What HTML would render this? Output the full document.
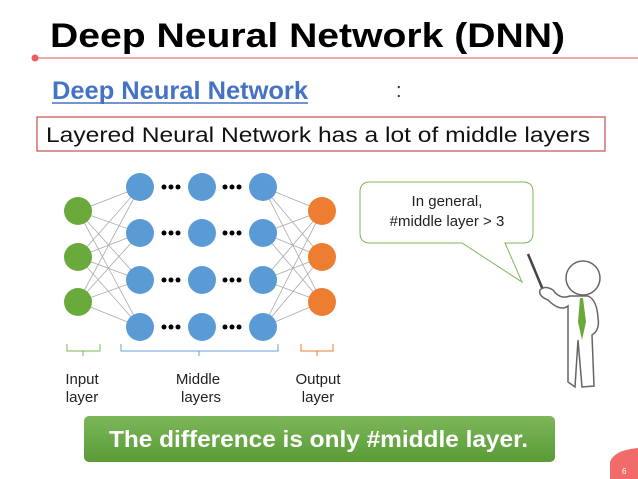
<!DOCTYPE html>
<html><head><meta charset="utf-8"><style>
html,body{margin:0;padding:0;background:#fff}
svg{display:block}
text{font-family:"Liberation Sans",sans-serif}
</style></head><body>
<svg width="638" height="479" viewBox="0 0 638 479" xmlns="http://www.w3.org/2000/svg">
<defs>
<linearGradient id="gb" x1="0" y1="0" x2="0" y2="1"><stop offset="0" stop-color="#7cb75a"/><stop offset="1" stop-color="#5a9b36"/></linearGradient>
</defs>
<text x="50" y="47" font-size="34" font-weight="bold" fill="#000" textLength="515" lengthAdjust="spacingAndGlyphs">Deep Neural Network (DNN)</text>
<line x1="35" y1="58" x2="638" y2="58" stroke="#e89090" stroke-width="1.5"/>
<circle cx="35" cy="58" r="3.5" fill="#ee5c5c"/>
<text x="52" y="99" font-size="25" font-weight="bold" fill="#4472c4" textLength="256" lengthAdjust="spacingAndGlyphs">Deep Neural Network</text>
<line x1="52" y1="103" x2="308" y2="103" stroke="#4472c4" stroke-width="1.5"/>
<text x="396" y="97" font-size="20" fill="#333">:</text>
<rect x="37" y="117" width="568" height="34" fill="#fff" stroke="#c0504d" stroke-width="1.2"/>
<text x="46" y="142" font-size="21" fill="#111" textLength="544" lengthAdjust="spacingAndGlyphs">Layered Neural Network has a lot of middle layers</text>
<g stroke="#aaa" stroke-width="0.8">
<line x1="78" y1="211" x2="140" y2="187"/><line x1="78" y1="211" x2="140" y2="233"/><line x1="78" y1="211" x2="140" y2="280"/><line x1="78" y1="211" x2="140" y2="327"/>
<line x1="78" y1="257" x2="140" y2="187"/><line x1="78" y1="257" x2="140" y2="233"/><line x1="78" y1="257" x2="140" y2="280"/><line x1="78" y1="257" x2="140" y2="327"/>
<line x1="78" y1="302" x2="140" y2="187"/><line x1="78" y1="302" x2="140" y2="233"/><line x1="78" y1="302" x2="140" y2="280"/><line x1="78" y1="302" x2="140" y2="327"/>
<line x1="263" y1="187" x2="322" y2="211"/><line x1="263" y1="187" x2="322" y2="257"/><line x1="263" y1="187" x2="322" y2="302"/>
<line x1="263" y1="233" x2="322" y2="211"/><line x1="263" y1="233" x2="322" y2="257"/><line x1="263" y1="233" x2="322" y2="302"/>
<line x1="263" y1="280" x2="322" y2="211"/><line x1="263" y1="280" x2="322" y2="257"/><line x1="263" y1="280" x2="322" y2="302"/>
<line x1="263" y1="327" x2="322" y2="211"/><line x1="263" y1="327" x2="322" y2="257"/><line x1="263" y1="327" x2="322" y2="302"/>
</g>
<g fill="#6aaa3c"><circle cx="78" cy="211" r="14"/><circle cx="78" cy="257" r="14"/><circle cx="78" cy="302" r="14"/></g>
<g fill="#ed7d31"><circle cx="322" cy="211" r="14"/><circle cx="322" cy="257" r="14"/><circle cx="322" cy="302" r="14"/></g>
<g fill="#5b9bd5">
<circle cx="140" cy="187" r="14"/><circle cx="202" cy="187" r="14"/><circle cx="263" cy="187" r="14"/>
<circle cx="140" cy="233" r="14"/><circle cx="202" cy="233" r="14"/><circle cx="263" cy="233" r="14"/>
<circle cx="140" cy="280" r="14"/><circle cx="202" cy="280" r="14"/><circle cx="263" cy="280" r="14"/>
<circle cx="140" cy="327" r="14"/><circle cx="202" cy="327" r="14"/><circle cx="263" cy="327" r="14"/>
</g>
<g fill="#000">
<circle cx="164" cy="187" r="2.5"/><circle cx="171" cy="187" r="2.5"/><circle cx="178" cy="187" r="2.5"/>
<circle cx="225" cy="187" r="2.5"/><circle cx="232" cy="187" r="2.5"/><circle cx="239" cy="187" r="2.5"/>
<circle cx="164" cy="233" r="2.5"/><circle cx="171" cy="233" r="2.5"/><circle cx="178" cy="233" r="2.5"/>
<circle cx="225" cy="233" r="2.5"/><circle cx="232" cy="233" r="2.5"/><circle cx="239" cy="233" r="2.5"/>
<circle cx="164" cy="280" r="2.5"/><circle cx="171" cy="280" r="2.5"/><circle cx="178" cy="280" r="2.5"/>
<circle cx="225" cy="280" r="2.5"/><circle cx="232" cy="280" r="2.5"/><circle cx="239" cy="280" r="2.5"/>
<circle cx="164" cy="327" r="2.5"/><circle cx="171" cy="327" r="2.5"/><circle cx="178" cy="327" r="2.5"/>
<circle cx="225" cy="327" r="2.5"/><circle cx="232" cy="327" r="2.5"/><circle cx="239" cy="327" r="2.5"/>
</g>
<g fill="none" stroke-width="1">
<path d="M67 344 V351 H100 V344 M83 351 V356" stroke="#7cb75a"/>
<path d="M121 344 V351 H278 V344 M199 351 V356" stroke="#6a9fd8"/>
<path d="M301 344 V351 H333 V344 M317 351 V356" stroke="#ed7d31"/>
</g>
<g font-size="15" fill="#222" text-anchor="middle">
<text x="82" y="384">Input</text><text x="82" y="402">layer</text>
<text x="198" y="384">Middle</text><text x="201" y="402">layers</text>
<text x="318" y="384">Output</text><text x="318" y="402">layer</text>
</g>
<path d="M370 182 H523 Q533 182 533 192 V233 Q533 243 523 243 H505 L522 282 L462 243 H370 Q360 243 360 233 V192 Q360 182 370 182 Z" fill="#fff" stroke="#7cb75a" stroke-width="1"/>
<text x="447" y="206" font-size="15" fill="#222" text-anchor="middle">In general,</text>
<text x="447" y="226" font-size="15" fill="#222" text-anchor="middle">#middle layer &gt; 3</text>
<g fill="#fff" stroke="#666" stroke-width="1.5">
<line x1="528" y1="254" x2="543" y2="290" stroke="#444" stroke-width="2.5"/>
<circle cx="583" cy="278" r="17"/>
<path d="M570 296 Q560 300 553 290 Q545 285 540 290 Q538 296 548 300 Q560 312 568 306 L568 382 L575 387 L578 340 L582 387 L594 386 L592 335 Q600 330 598 318 Q597 300 588 296 Z"/>
</g>
<path d="M580 298 L583 298 L586 322 L582 340 L578 322 Z" fill="#6aaa3c"/>
<rect x="84" y="416" width="471" height="46" rx="5" fill="url(#gb)"/>
<text x="109" y="447" font-size="23" font-weight="bold" fill="#fff" textLength="419" lengthAdjust="spacingAndGlyphs">The difference is only #middle layer.</text>
<path d="M610 479 V462 Q614 450 638 448 V479 Z" fill="#f26b6b"/>
<text x="622" y="474" font-size="8" fill="#fff">6</text>
</svg>
</body></html>
